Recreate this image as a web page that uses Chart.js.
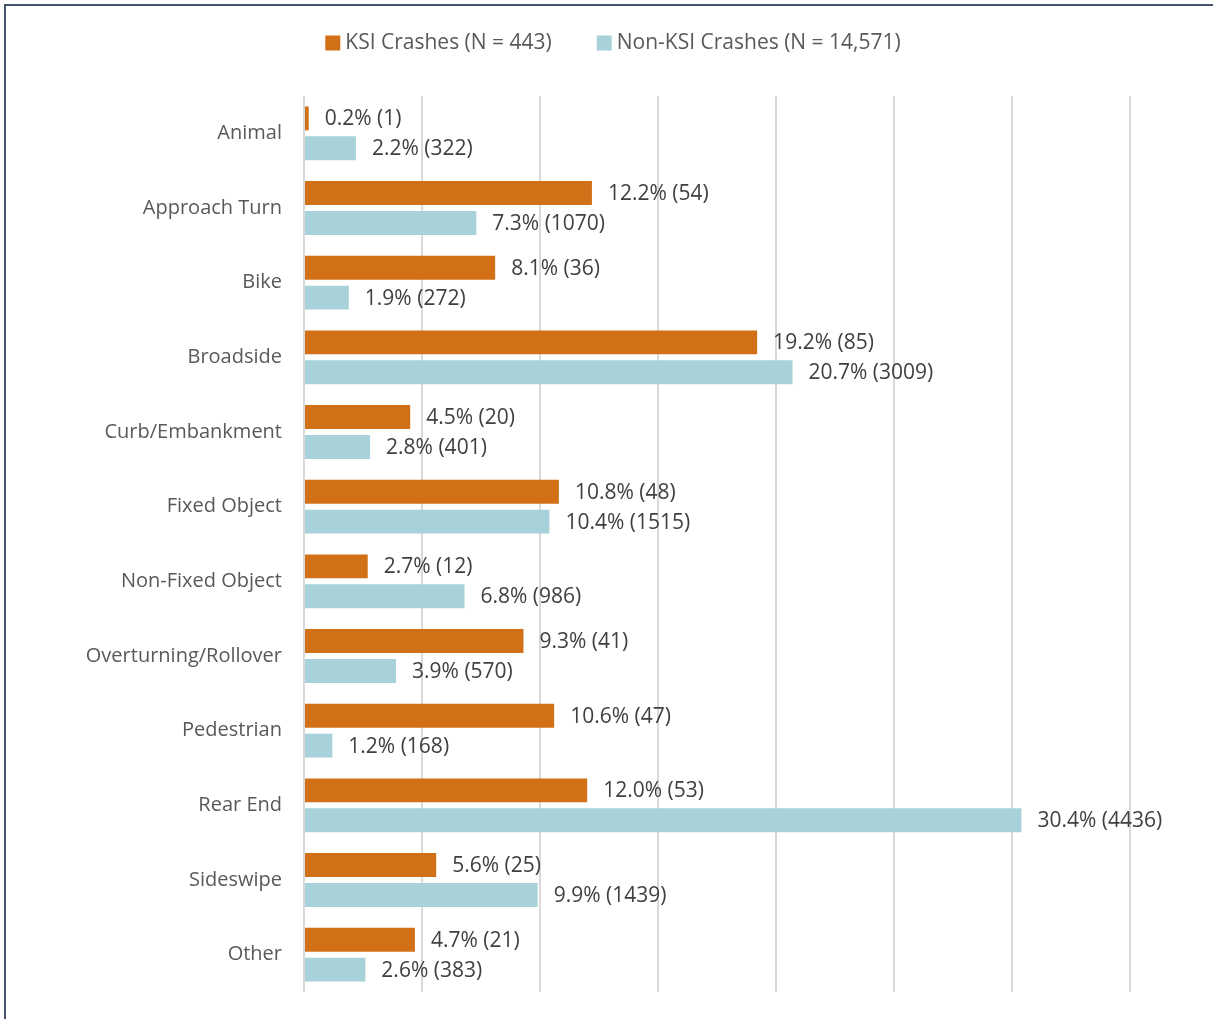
<!DOCTYPE html>
<html>
<head>
<meta charset="utf-8">
<script src="https://cdn.jsdelivr.net/npm/chart.js@4"></script>
<style>
  html, body { margin: 0; padding: 0; background: #fff; }
  #wrap { position: relative; width: 1213px; height: 1019px; }
  #frame { position: absolute; left: 4px; top: 4px; width: 1300px; height: 1100px;
           border-left: 2px solid #44546A; border-top: 2px solid #44546A; box-sizing: border-box; }
  canvas { position: absolute; left: 0; top: 0; }
</style>
</head>
<body>
<div id="wrap">
  <div id="frame"></div>
  <canvas id="c" width="1213" height="1019"></canvas>
</div>
<script>
const categories = ["Animal", "Approach Turn", "Bike", "Broadside", "Curb/Embankment", "Fixed Object",
  "Non-Fixed Object", "Overturning/Rollover", "Pedestrian", "Rear End", "Sideswipe", "Other"];
const ksiPct = [0.2, 12.2, 8.1, 19.2, 4.5, 10.8, 2.7, 9.3, 10.6, 12.0, 5.6, 4.7];
const ksiCount = [1, 54, 36, 85, 20, 48, 12, 41, 47, 53, 25, 21];
const nonKsiPct = [2.2, 7.3, 1.9, 20.7, 2.8, 10.4, 6.8, 3.9, 1.2, 30.4, 9.9, 2.6];
const nonKsiCount = [322, 1070, 272, 3009, 401, 1515, 986, 570, 168, 4436, 1439, 383];
const seriesNames = ["KSI Crashes (N = 443)", "Non-KSI Crashes (N = 14,571)"];
const xMax = 35;
const xStep = 5;

const FONT = "'Open Sans', 'Noto Sans', sans-serif";

const valueLabels = {
  id: 'valueLabels',
  afterDatasetsDraw(chart) {
    const ctx = chart.ctx;
    ctx.save();
    ctx.font = "21px " + FONT;
    ctx.fillStyle = "#404040";
    ctx.textBaseline = "middle";
    ctx.textAlign = "left";
    chart.data.datasets.forEach((ds, di) => {
      const meta = chart.getDatasetMeta(di);
      meta.data.forEach((bar, i) => {
        const txt = ds.data[i].toFixed(1) + "% (" + ds.counts[i] + ")";
        ctx.fillText(txt, bar.x + 16, bar.y + 1);
      });
    });
    ctx.restore();
  }
};

const customLegend = {
  id: 'customLegend',
  afterDraw(chart) {
    const ctx = chart.ctx;
    ctx.save();
    ctx.font = "21px " + FONT;
    ctx.textBaseline = "middle";
    ctx.textAlign = "left";
    const box = 15, gapText = 5, gapItem = 45, cy = 43, centerX = 613;
    const items = chart.data.datasets.map(ds => ({ text: ds.label, color: ds.backgroundColor,
      w: box + gapText + ctx.measureText(ds.label).width }));
    const total = items.reduce((s, it) => s + it.w, 0) + gapItem * (items.length - 1);
    let x = centerX - total / 2;
    items.forEach(it => {
      ctx.fillStyle = it.color;
      ctx.fillRect(x, cy - box / 2, box, box);
      ctx.fillStyle = '#595959';
      ctx.fillText(it.text, x + box + gapText, cy);
      x += it.w + gapItem;
    });
    ctx.restore();
  }
};

new Chart(document.getElementById('c'), {
  type: 'bar',
  data: {
    labels: categories,
    datasets: [
      { label: seriesNames[0], data: ksiPct, counts: ksiCount, backgroundColor: '#D27018',
        borderWidth: 0, categoryPercentage: 0.8, barPercentage: 0.8 },
      { label: seriesNames[1], data: nonKsiPct, counts: nonKsiCount, backgroundColor: '#A7D2D9',
        borderWidth: 0, categoryPercentage: 0.8, barPercentage: 0.8 }
    ]
  },
  options: {
    indexAxis: 'y',
    responsive: false,
    animation: false,
    devicePixelRatio: 1,
    layout: { padding: { left: 0, right: 83, top: 96, bottom: 27 } },
    plugins: {
      legend: { display: false },
      tooltip: { enabled: false }
    },
    scales: {
      x: {
        min: 0, max: xMax,
        ticks: { display: false, stepSize: xStep },
        grid: { color: '#D9D9D9', lineWidth: 2, drawTicks: false },
        border: { display: false },
        afterFit(scale) { scale.height = 0; scale.paddingLeft = 0; scale.paddingRight = 0; }
      },
      y: {
        ticks: { font: { family: FONT, size: 20 }, color: '#595959', padding: 22 },
        grid: { display: false, drawTicks: false },
        border: { display: false },
        afterFit(scale) { scale.width = 304; scale.paddingTop = 0; scale.paddingBottom = 0; }
      }
    }
  },
  plugins: [valueLabels, customLegend]
});
</script>
</body>
</html>
